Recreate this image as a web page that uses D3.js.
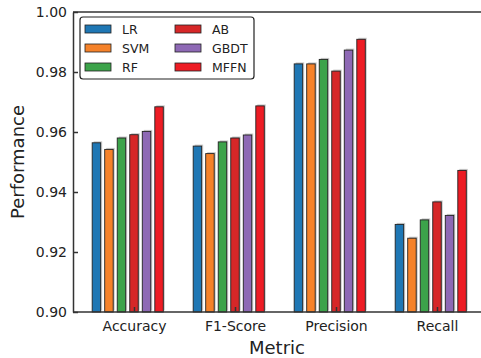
<!DOCTYPE html>
<html>
<head>
<meta charset="utf-8">
<script src="https://cdn.jsdelivr.net/npm/d3@7"></script>
<style>
  body { margin: 0; background: #fff; }
  svg { font-family: "DejaVu Sans", sans-serif; }
</style>
</head>
<body>
<div id="chart"></div>
<script>
// --- Data ---
const metrics = ["Accuracy", "F1-Score", "Precision", "Recall"];
const models = ["LR", "SVM", "RF", "AB", "GBDT", "MFFN"];
const LR   = [0.9564, 0.9553, 0.9827, 0.9292];
const SVM  = [0.9542, 0.9528, 0.9827, 0.9246];
const RF   = [0.9580, 0.9567, 0.9842, 0.9307];
const AB   = [0.9591, 0.9580, 0.9803, 0.9367];
const GBDT = [0.9602, 0.9590, 0.9873, 0.9322];
const MFFN = [0.9684, 0.9687, 0.9909, 0.9472];
const yTicks = [0.90, 0.92, 0.94, 0.96, 0.98, 1.00];

const series = [LR, SVM, RF, AB, GBDT, MFFN];
const colors = ["#1f77b4", "#f5822a", "#3ca34a", "#d62728", "#8e69b5", "#ed1c24"];

const width = 481, height = 358;
const plotLeft = 73, plotTop = 12, plotBottom = 312;

const svg = d3.select("#chart").append("svg")
  .attr("width", width).attr("height", height);

// --- Scales ---
const x = d3.scaleLinear().domain([0, 3]).range([134, 437]);
const y = d3.scaleLinear().domain([0.90, 1.00]).range([plotBottom, plotTop]);
const step = 0.124;      // offset between bars, in category units
const barW = 0.084;      // bar width, in category units
const pxW = x(barW) - x(0);

// --- Bars ---
series.forEach((vals, i) => {
  const g = svg.append("g");
  const off = (i - 3) * step;
  // shadow
  g.selectAll("rect.shadow").data(vals).enter().append("rect")
    .attr("class", "shadow")
    .attr("x", (d, j) => x(j + off) - pxW / 2 + 1.5)
    .attr("y", d => y(d) - 1.5)
    .attr("width", pxW)
    .attr("height", d => y(0.9) - y(d))
    .attr("fill", "#888").attr("opacity", 0.45);
  g.selectAll("rect.bar").data(vals).enter().append("rect")
    .attr("class", "bar")
    .attr("x", (d, j) => x(j + off) - pxW / 2)
    .attr("y", d => y(d))
    .attr("width", pxW)
    .attr("height", d => y(0.9) - y(d))
    .attr("fill", colors[i])
    .attr("stroke", "#222").attr("stroke-width", 0.9);
});

// --- Axes ---
const axisColor = "#333";
const yAxis = svg.append("g")
  .attr("transform", `translate(${plotLeft},0)`)
  .call(d3.axisLeft(y).tickValues(yTicks).tickFormat(d3.format(".2f"))
    .tickSizeInner(-5).tickSizeOuter(0).tickPadding(6));
yAxis.select(".domain").attr("stroke", axisColor).attr("stroke-width", 1.5);
yAxis.selectAll(".tick line").attr("stroke", axisColor).attr("stroke-width", 1.5);
yAxis.selectAll(".tick text").attr("font-size", 14).attr("fill", "#222")
  .attr("font-family", "DejaVu Sans");

const xAxis = svg.append("g")
  .attr("transform", `translate(0,${plotBottom})`)
  .call(d3.axisBottom(x).tickValues(d3.range(metrics.length))
    .tickFormat(i => metrics[i]).tickSizeInner(-5).tickSizeOuter(0).tickPadding(9));
xAxis.select(".domain").attr("d", `M${plotLeft},0H${width}`)
  .attr("stroke", axisColor).attr("stroke-width", 1.5);
xAxis.selectAll(".tick line").attr("stroke", axisColor).attr("stroke-width", 1.5);
xAxis.selectAll(".tick text").attr("font-size", 14).attr("fill", "#222")
  .attr("font-family", "DejaVu Sans");

// top spine
svg.append("line")
  .attr("x1", plotLeft).attr("x2", width)
  .attr("y1", plotTop).attr("y2", plotTop)
  .attr("stroke", axisColor).attr("stroke-width", 1.5);

// --- Axis labels ---
svg.append("text")
  .attr("x", 277).attr("y", 354)
  .attr("text-anchor", "middle").attr("font-size", 18).attr("fill", "#222")
  .text("Metric");
svg.append("text")
  .attr("transform", "translate(24,162) rotate(-90)")
  .attr("text-anchor", "middle").attr("font-size", 18).attr("fill", "#222")
  .text("Performance");

// --- Legend ---
const legend = svg.append("g");
legend.append("rect")
  .attr("x", 80).attr("y", 17).attr("width", 174).attr("height", 62)
  .attr("rx", 3).attr("fill", "#fff").attr("stroke", "#222").attr("stroke-width", 1.2);
models.forEach((m, i) => {
  const col = Math.floor(i / 3), row = i % 3;
  const lx = 85 + col * 90, ly = 25 + row * 19;
  legend.append("rect")
    .attr("x", lx).attr("y", ly).attr("width", 26).attr("height", 8)
    .attr("fill", colors[i]).attr("stroke", "#222").attr("stroke-width", 0.8);
  legend.append("text")
    .attr("x", lx + 37).attr("y", ly + 8.5)
    .attr("font-size", 12.5).attr("fill", "#222")
    .text(m);
});
</script>
</body>
</html>
